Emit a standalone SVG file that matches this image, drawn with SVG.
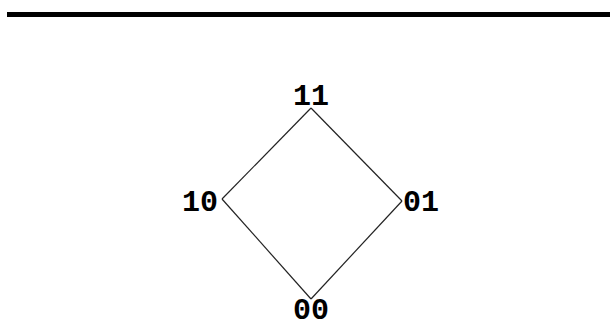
<svg xmlns="http://www.w3.org/2000/svg" width="610" height="325" viewBox="0 0 610 325">
<style>
.lbl{font-family:"Liberation Mono","Courier New",monospace;font-weight:bold;font-size:30px;fill:#000}
.edge{stroke:#222;stroke-width:1.2;fill:none}
</style>
<rect x="0" y="0" width="610" height="325" fill="#fff"/>
<rect x="7" y="12" width="603" height="5" fill="#000"/>
<g id="connectors">
<line class="edge" x1="311" y1="108" x2="222" y2="199"/>
<line class="edge" x1="311" y1="108" x2="402" y2="201"/>
<line class="edge" x1="222" y1="199" x2="311" y2="299"/>
<line class="edge" x1="402" y1="201" x2="311" y2="299"/>
</g>
<g id="n11"><text class="lbl" x="311" y="105" text-anchor="middle">11</text></g>
<g id="n10"><text class="lbl" x="218" y="211" text-anchor="end">10</text></g>
<g id="n01"><text class="lbl" x="403" y="211">01</text></g>
<g id="n00"><text class="lbl" x="311" y="319" text-anchor="middle">00</text></g>
</svg>
